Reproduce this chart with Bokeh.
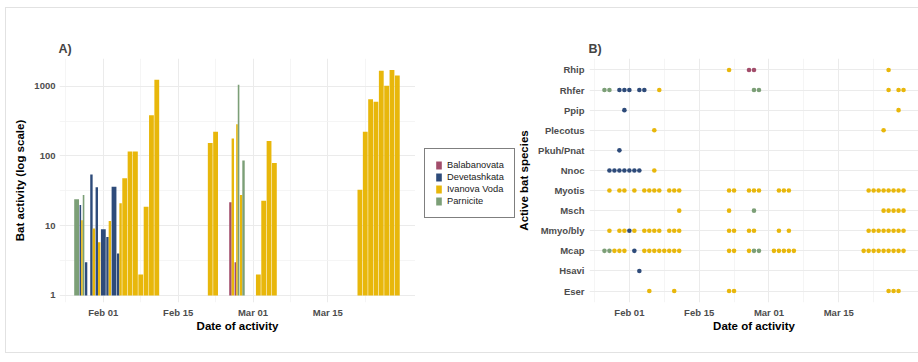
import pandas as pd
from collections import defaultdict
from bokeh.plotting import figure
from bokeh.models import (FixedTicker, DatetimeTickFormatter, NumeralTickFormatter, Legend,
                          LegendItem, Range1d, FactorRange)
from bokeh.layouts import row
from bokeh.embed import file_html
from bokeh.resources import INLINE

YEAR = "2023"
FONT = "Liberation Sans"

sites = ["Balabanovata", "Devetashkata", "Ivanova Voda", "Parnicite"]
site_colors = ["#A24D6B", "#2E4B7A", "#E8B70B", "#7C9F77"]

# ---- Panel A: bat activity per night and site ----
bal_dates = ["02-25", "02-26"]
bal_vals = [21.6, 3.0]
dev_dates = ["01-28", "01-29", "01-30", "01-31", "02-01", "02-02", "02-03", "02-04"]
dev_vals = [19.8, 3.0, 54, 35.5, 8.9, 6.9, 36, 4.0]
iv_dates = ["01-28", "01-29", "01-30", "01-31", "02-02", "02-04", "02-05", "02-06", "02-07",
            "02-08", "02-09", "02-10", "02-11", "02-21", "02-22", "02-25", "02-26", "02-27",
            "03-02", "03-03", "03-04", "03-05", "03-06", "03-20", "03-21", "03-22", "03-23",
            "03-24", "03-25", "03-26", "03-27", "03-28"]
iv_vals = [12, 1, 9.1, 5.8, 11.7, 21, 48, 116, 116,
           2.0, 18.7, 383, 1236, 153, 221, 178, 284, 27.6,
           2.0, 22.8, 163, 79, 1, 1, 32.6, 221, 650,
           595, 1665, 1013, 1700, 1415]
par_dates = ["01-27", "01-28", "02-26", "02-27"]
par_vals = [24, 27.6, 1050, 86]

bar_series = {
    "Balabanovata": (bal_dates, bal_vals),
    "Devetashkata": (dev_dates, dev_vals),
    "Ivanova Voda": (iv_dates, iv_vals),
    "Parnicite": (par_dates, par_vals),
}

y_tick_values = [1, 10, 100, 1000]
x_tick_dates = ["02-01", "02-15", "03-01", "03-15"]
x_minor_dates = ["01-25", "02-08", "02-22", "03-08", "03-22"]

# ---- Panel B: species detected per night and site ----
species = ["Eser", "Hsavi", "Mcap", "Mmyo/bly", "Msch", "Myotis", "Nnoc",
           "Pkuh/Pnat", "Plecotus", "Ppip", "Rhfer", "Rhip"]

spring = ["03-21", "03-22", "03-23", "03-24", "03-25", "03-26", "03-27", "03-28"]
dots_ivanova = {
    "Rhip": ["02-21", "03-25"],
    "Rhfer": ["02-07", "03-25", "03-27", "03-28"],
    "Ppip": ["03-27"],
    "Plecotus": ["02-06", "03-24"],
    "Nnoc": ["02-06"],
    "Myotis": ["01-28", "01-30", "01-31", "02-02", "02-04", "02-05", "02-06", "02-07", "02-09",
               "02-10", "02-11", "02-21", "02-22", "02-25", "02-26", "02-27", "03-03", "03-04",
               "03-05"] + spring,
    "Msch": ["02-11", "02-21", "03-24", "03-25", "03-26", "03-27", "03-28"],
    "Mmyo/bly": ["01-28", "01-30", "01-31", "02-02", "02-04", "02-05", "02-06", "02-07", "02-09",
                 "02-10", "02-11", "02-21", "02-22", "02-25", "02-26", "03-03", "03-05"] + spring,
    "Mcap": ["01-29", "01-30", "01-31", "02-04", "02-05", "02-06", "02-07", "02-08", "02-09",
             "02-10", "02-11", "02-21", "02-22", "02-25", "03-02", "03-03", "03-04", "03-05",
             "03-06", "03-20"] + spring,
    "Eser": ["02-05", "02-10", "02-21", "02-22", "03-25", "03-26", "03-27"],
}
dots_parnicite = {
    "Rhfer": ["01-27", "01-28", "02-26", "02-27"],
    "Msch": ["02-26"],
    "Mcap": ["01-27", "01-28", "02-26", "02-27"],
}
dots_devetashkata = {
    "Rhfer": ["01-30", "01-31", "02-01", "02-03", "02-04"],
    "Ppip": ["01-31"],
    "Pkuh/Pnat": ["01-30"],
    "Nnoc": ["01-28", "01-29", "01-30", "01-31", "02-01", "02-02", "02-03"],
    "Mmyo/bly": ["02-01"],
    "Mcap": ["02-02"],
    "Hsavi": ["02-03"],
}
dots_balabanovata = {
    "Rhip": ["02-25", "02-26"],
}
dot_layers = [("Ivanova Voda", dots_ivanova), ("Parnicite", dots_parnicite),
              ("Devetashkata", dots_devetashkata), ("Balabanovata", dots_balabanovata)]

DAY = 86400000.0


def ms(s):
    return pd.Timestamp(f"{YEAR}-{s}").value / 1e6


color_of = dict(zip(sites, site_colors))
ORIGIN = ms("02-01")

GRID = "#EBEBEB"
MINOR = "#F2F2F2"
TICK_COLOR = "#4D4D4D"
H = 344
TOP, BOTTOM = 50, 50


def style(p):
    p.outline_line_color = None
    p.background_fill_color = "white"
    p.border_fill_color = "white"
    for ax in list(p.xaxis) + list(p.yaxis):
        ax.axis_line_color = None
        ax.major_tick_line_color = None
        ax.minor_tick_line_color = None
        ax.major_tick_out = 0
        ax.major_tick_in = 0
        ax.minor_tick_out = 0
        ax.minor_tick_in = 0
        ax.major_label_text_font = FONT
        ax.major_label_text_font_size = "9.5px"
        ax.major_label_text_font_style = "bold"
        ax.major_label_text_color = TICK_COLOR
        ax.axis_label_text_font = FONT
        ax.axis_label_text_font_size = "11.5px"
        ax.axis_label_text_font_style = "bold"
        ax.axis_label_text_color = "black"
    p.title.text_font = FONT
    p.title.text_font_size = "12.5px"
    p.title.text_font_style = "bold"
    p.title.align = "left"
    p.title.offset = -1
    p.title.standoff = 5


# ---------- Panel A ----------
p1 = figure(width=409, height=H, x_axis_type="datetime", y_axis_type="log",
            x_range=Range1d(ORIGIN - 8.2 * DAY, ORIGIN + 58.4 * DAY),
            y_range=Range1d(0.792, 2489),
            output_backend="svg", toolbar_location=None, title="A)",
            min_border_left=53, min_border_right=0, min_border_top=TOP, min_border_bottom=BOTTOM)

present = defaultdict(list)
for s in sites:
    for d in bar_series[s][0]:
        present[d].append(s)

renderers = {}
for s in sites:
    dates, vals = bar_series[s]
    xs, ws = [], []
    for d in dates:
        lst = present[d]
        n = len(lst)
        i = lst.index(s)
        w = 0.9 / n
        xs.append(ms(d) + (-0.45 + w * (i + 0.5)) * DAY)
        ws.append(w * DAY)
    renderers[s] = p1.vbar(x=xs, width=ws, bottom=1, top=vals, fill_color=color_of[s],
                           line_color=None)

p1.yaxis.ticker = FixedTicker(ticks=y_tick_values,
                              minor_ticks=[v * 10 ** 0.5 for v in y_tick_values[:-1]])
p1.yaxis.formatter = NumeralTickFormatter(format="0")
fmt = DatetimeTickFormatter(days="%b %d", months="%b %d", years="%b %d", hours="%b %d")
p1.xaxis.ticker = FixedTicker(ticks=[ms(d) for d in x_tick_dates],
                              minor_ticks=[ms(d) for d in x_minor_dates])
p1.xaxis.formatter = fmt
p1.xaxis.axis_label = "Date of activity"
p1.yaxis.axis_label = "Bat activity (log scale)"
style(p1)
p1.yaxis.major_label_standoff = 4
p1.yaxis.axis_label_standoff = 5
p1.xaxis.major_label_standoff = 4
p1.xaxis.axis_label_standoff = -1
for g in (p1.xgrid, p1.ygrid):
    g.grid_line_color = GRID
    g.grid_line_width = 1
    g.minor_grid_line_color = MINOR
    g.minor_grid_line_width = 0.8

# ---------- Legend (own canvas between the panels) ----------
pl = figure(width=100, height=H, x_range=Range1d(0, 1), y_range=Range1d(0, 1),
            x_axis_location=None, y_axis_location=None, output_backend="svg",
            toolbar_location=None, min_border_left=0, min_border_right=0,
            min_border_top=TOP, min_border_bottom=BOTTOM)
pl.outline_line_color = None
pl.xgrid.visible = False
pl.ygrid.visible = False
legend_renderers = [pl.vbar(x=[5], top=[5], bottom=[4], width=0.1, fill_color=color_of[s],
                            line_color=None) for s in sites]
legend = Legend(items=[LegendItem(label=s, renderers=[r]) for s, r in zip(sites, legend_renderers)],
                location=(9, 84), glyph_width=7, glyph_height=10, label_height=12,
                label_width=40, spacing=0, padding=10, margin=0, label_standoff=5,
                label_text_font=FONT, label_text_font_size="9.3px", label_text_color="#1A1A1A",
                border_line_color="black", border_line_width=1.3, background_fill_color="white")
pl.add_layout(legend)

# ---------- Panel B ----------
p2 = figure(width=403, height=H, x_axis_type="datetime",
            x_range=Range1d(ORIGIN - 8 * DAY, ORIGIN + 58 * DAY),
            y_range=FactorRange(factors=species, range_padding=0.07,
                                range_padding_units="absolute"),
            output_backend="svg", toolbar_location=None, title="B)",
            min_border_left=73, min_border_right=0, min_border_top=TOP, min_border_bottom=BOTTOM)

for s, layer in dot_layers:
    xs, ys = [], []
    for sp, dates in layer.items():
        for d in dates:
            xs.append(ms(d))
            ys.append(sp)
    p2.scatter(x=xs, y=ys, size=4.6, fill_color=color_of[s], line_color=None)

p2.xaxis.ticker = FixedTicker(ticks=[ms(d) for d in x_tick_dates],
                              minor_ticks=[ms(d) for d in x_minor_dates])
p2.xaxis.formatter = fmt
p2.xaxis.axis_label = "Date of activity"
p2.yaxis.axis_label = "Active bat species"
style(p2)
p2.yaxis.major_label_standoff = 5
p2.yaxis.axis_label_standoff = 5
p2.xaxis.major_label_standoff = 4
p2.xaxis.axis_label_standoff = -1
p2.xgrid.grid_line_color = GRID
p2.xgrid.minor_grid_line_color = MINOR
p2.xgrid.minor_grid_line_width = 0.8
p2.ygrid.grid_line_color = GRID

layout = row(p1, pl, p2, margin=(7, 0, 0, 5),
             styles={"border": "1px solid #E2E2E2", "background-color": "white"})
open("out.html", "w").write(file_html(layout, INLINE))
